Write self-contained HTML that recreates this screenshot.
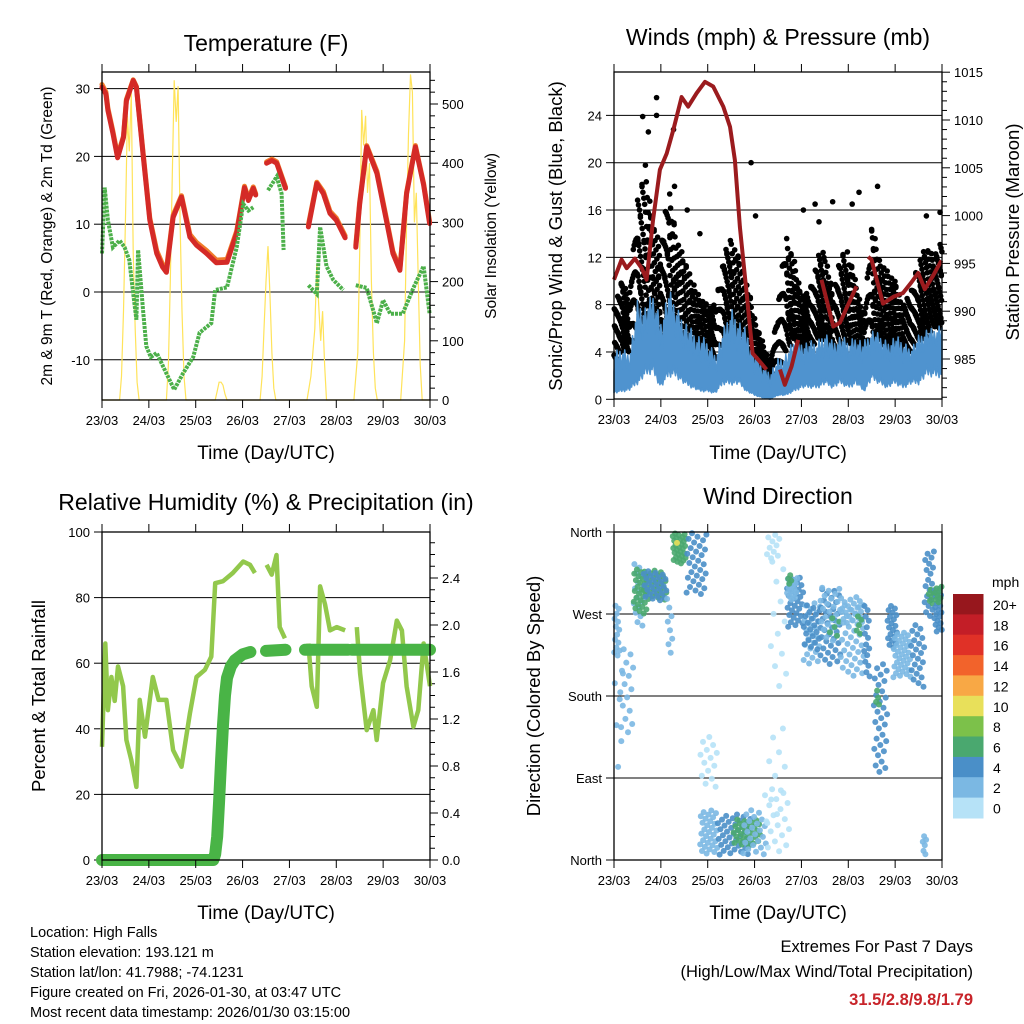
<!DOCTYPE html>
<html><head><meta charset="utf-8"><style>
html,body{margin:0;padding:0;background:#fff;}
svg{display:block;font-family:"Liberation Sans",sans-serif;}
</style></head><body>
<svg id="chart" xmlns="http://www.w3.org/2000/svg" width="1024" height="1024" viewBox="0 0 1024 1024"></svg>
<script>
// ---------- data ----------
const dayLabels = ["23/03","24/03","25/03","26/03","27/03","28/03","29/03","30/03"];
const tempHours = [0,2,3,5.6,8,11,12.5,16,17.6,21,24.5,28,31,33,36.4,40.7,45,48.4,53.5,58.6,64,69,73,75,77.5,78.7,null,84.3,87,89.5,94,null,105.7,110,113.4,116.8,120,124.5,null,130,132,135.6,140.8,146,149,152.6,156,160.5,164.7,167.8];
const temp2m = [30.2,29.2,26.8,23.4,19.8,22.8,28.2,31.2,30.2,20.4,10.6,5.7,3.7,2.9,11,14,8.1,6.9,5.7,4.3,4.4,8.7,15.4,13.5,15.3,14.3,null,19,19.4,19,15.3,null,9.6,16,14.5,11.6,10.6,8,null,6.6,13,21.4,17.5,10.1,5.7,3.2,14.5,21.4,15.8,10.1];
const temp9m = [30.6,29.5,27.1,23.7,20.1,23.0,28.4,31.3,30.3,20.7,10.9,6.1,4.1,3.3,11.3,14.2,8.5,7.3,6.1,4.7,4.8,9.0,15.6,13.8,15.5,14.5,null,19.2,19.6,19.2,15.5,null,9.9,16.2,14.8,11.9,10.9,8.3,null,6.9,13.3,21.6,17.8,10.4,6.0,3.5,14.7,21.6,16.0,10.4];
const dewHours = [0,1.4,3,5.6,9,11.6,14,16,17.6,18.5,21,22.7,25,28,33,37,41.5,46.7,50,56,58,64,69,72.3,75,77.5,null,85,89.5,92,93,null,105.7,110,111.7,115,118.4,123.6,null,130,135.6,140.8,144,147.6,154,159.5,164.7,167.8];
const dewF = [5.7,15.4,10.6,6.6,7.6,6.6,4.7,-0.2,-4.1,6.2,-2.6,-8,-9.6,-9,-12,-14.4,-12,-9.6,-6,-4.6,0.3,0.7,6.6,13,12,12.5,null,15,17,14.5,6.2,null,1,-0.3,9.6,3.8,1.8,0.3,null,1,0.6,-4.6,-1.2,-3.2,-3.2,0.6,3.8,-3.2];
const solarHours = [0,9,10,11,12,13,14,15,16,17,18,19,33,34,35,36,37,38,39,40,41,42,43,58,59,60,61,62,63,64,81,82,83,84,85,86,87,88,89,105,107,109,110,111,112,113,114,115,129,131,132,133,134,135,136,137,138,139,140,141,153,155,156,157,158,159,160,161,162,163,164,168];
const solarW = [0,0,40,150,300,480,420,520,250,120,30,0,0,60,200,380,540,470,530,300,150,40,0,0,15,30,30,25,10,0,0,40,120,200,260,180,80,20,0,0,40,120,230,160,100,150,60,0,0,80,250,490,430,480,350,400,200,80,20,0,0,100,300,450,550,520,300,350,200,60,0,0];
const presHours = [0,3.9,6.5,10.7,14.2,16.7,20,23.5,27,30.4,34.6,38,42.3,46.6,50.8,56,59.4,61.9,64.5,67.9,71,74,78.1,null,85,87.5,90.9,94.3,null,106.3,112.3,115.7,124.2,null,130.2,131.9,137.8,143,148,152.3,155.8,159.2,163.4,167.7];
const presMb = [993.3,995.4,994.5,995.5,994.5,993.3,999.5,1004.8,1006.5,1009,1012.4,1011.4,1012.8,1014,1013.5,1011.4,1009.3,1005.8,998.8,991.9,985.6,984.9,983.9,null,983.9,982.3,984.2,987,null,993.3,988.4,988.8,992.6,null,995.7,995.4,990.8,991.5,991.9,993,994,992.3,993.7,995.3];
const windHours = [0,4,8,12,16,20,24,28,32,36,40,44,48,52,56,60,64,68,72,76,80,84,88,92,96,100,104,108,112,116,120,124,128,132,136,140,144,148,152,156,160,164,168];
const windHigh = [4,4.5,4,8.5,8,9,7,9.5,8,7,6,5.5,5,4,6,8,7,6,4,3,2.5,3.5,4,5,5,5,5,6,5,5.5,5,5.5,5,6,5.5,5,5.5,5,4.5,5.5,6,6,6.5];
const windLow = [0.8,1,1.2,2,3,3.5,1.5,3,3,2,1.5,1,1,0.8,2,2,2,1,0.5,0.2,0,0.5,0.5,1,1.5,1.5,1.5,2,1.5,2,1.5,2,1,2.5,2,1.5,2,1.5,2,2,3,3,3];
const gustLow = [3,4,4,6,7,6,5,6,6,4,3,3,2,3,5,5,4,3,2,1,0.5,2,4,5,4,4,5,5,3,4,5,4,3,5,5,4,4,3,4,5,5,6,6];
const gustHigh = [8,10,9,17,20,15,13,18,14,12,10,9,8,8,12,14,12,10,7,5,3,8,14,12,9,9,12,13,9,12,13,10,7,15,12,11,10,8,9,12,13,12,14];
const gustOutH = [14.7,17.6,21.8,21.8,30.5,31,37.5,44,70.2,72.5,97,103,105,112,122,125.5,135,160,167];
const gustOutV = [23.9,22.6,25.5,24,22.8,18,16,14,20,15.5,16,16.5,15,16.7,16.5,17.5,18,15.5,15.8];
const rhHours = [0,1.7,3,4.8,6.5,8.2,10.8,12.5,15,17.6,19.3,22,24.5,26,29,33,36.4,40.7,45,48.4,52.7,56,58,62,67,72.3,75.8,78.3,null,84.3,86.9,89.4,91,93.7,null,105.7,107.4,110,111.7,114.2,116.8,120.2,124.5,null,130.5,132.2,135.6,139,140.7,144,147.6,151,153.6,156,159.5,162,164.7,168];
const rhPct = [34.5,66,45.7,55.8,48.5,59,53,36.6,30.5,22.3,48.8,37.6,48.8,55.8,48.8,48.8,33.5,28.4,44.7,55.8,58,62,84.4,85,87.5,91,90,87.5,null,90,87,93,71,67.6,null,66,53,46.7,83.4,78,70,71,70,null,71,56.9,39.6,45.7,36.6,54,61,73,70,53,40.6,45.7,66,53];
const prHours = [0,57,58,59,60,61,62,63,64,66,68,72,76,null,84,94,null,104,126,null,128,168];
const prIn = [0,0,0.05,0.2,0.5,0.85,1.15,1.4,1.55,1.65,1.7,1.75,1.77,null,1.78,1.79,null,1.79,1.79,null,1.79,1.79];
const dirStart = [0,0,3,10,10,15,15,27,30,32,37,44,44,53,61,66,77,78,78,80,88.5,88.5,89,97,97,105.6,105.6,110,116,116,124,128,133,134,140,143,152,159,161,164,164,158];
const dirEnd = [3,5,10,15,17,27,27,30,37,32.5,47.5,53,53,70,75,78,90,88,85,88.5,97,94,91,105.6,106,116,116,116,128,128,127,131,140,136,145,152,159,164,164,168,168,160];
const dirLo = [220,100,135,255,270,285,285,225,325,345,290,80,5,5,15,5,5,40,330,180,255,285,300,215,230,215,240,245,200,260,245,200,90,170,230,200,190,265,280,250,280,4];
const dirHi = [280,220,235,325,320,318,318,290,359,352,359,140,55,50,45,55,80,150,360,330,310,310,315,285,280,300,300,270,280,290,270,280,215,190,280,250,260,340,300,300,300,30];
const dirSpd = [3,2,2,3,6,7,4,2,6,10,4,1,3,4,7,3,1,1,0,0,4,3,6,2,4,4,2,6,3,2,6,4,4,6,4,2,4,4,6,4,6,3];
const dirCount = [14,6,16,16,26,30,26,8,30,1,30,14,30,40,30,24,18,10,10,12,30,15,4,25,22,35,25,5,35,20,5,15,30,4,20,35,22,20,6,20,8,6];
const cbLabels = ["20+","18","16","14","12","10","8","6","4","2","0"];
const cbColors = ["#97171d","#c31e27","#e03127","#f2632b","#f8a845","#e8e05a","#7cc14a","#4aa86f","#4a8fc8","#7bb8e3","#b6e2f7"];

// ---------- helpers ----------
const NS = "http://www.w3.org/2000/svg";
const svg = document.getElementById("chart");
function mk(tag, attrs, parent) {
  const e = document.createElementNS(NS, tag);
  for (const k in attrs) e.setAttribute(k, attrs[k]);
  (parent || svg).appendChild(e);
  return e;
}
function txt(s, x, y, size, anchor, parent, extra) {
  const t = mk("text", Object.assign({x: x, y: y, "font-size": size, "text-anchor": anchor || "middle", fill: "#000"}, extra || {}), parent);
  t.textContent = s;
  return t;
}
function spread(k) { return (k * 0.6180339887 + 0.13) % 1; }
function spread2(k) { return (k * 0.7548776662 + 0.37) % 1; }
function pathFrom(hs, vs, fx, fy) {
  let d = "", pen = false;
  for (let i = 0; i < hs.length; i++) {
    if (hs[i] === null || vs[i] === null) { pen = false; continue; }
    d += (pen ? "L" : "M") + fx(hs[i]).toFixed(1) + "," + fy(vs[i]).toFixed(1);
    pen = true;
  }
  return d;
}
function interp(hs, vs, h) {
  for (let i = 0; i < hs.length - 1; i++) {
    if (h >= hs[i] && h <= hs[i+1]) return vs[i] + (vs[i+1]-vs[i])*(h-hs[i])/(hs[i+1]-hs[i]);
  }
  return vs[vs.length-1];
}
function frame(x0, y0, x1, y1, g) {
  const r = mk("rect", {x: x0, y: y0, width: x1-x0, height: y1-y0, fill: "none", stroke: "#000", "stroke-width": 1.3}, g);
  
  
  const fx = h => x0 + h*(x1-x0)/168;
  for (let i = 0; i < dayLabels.length; i++) {
    const x = fx(i*24);
    mk("line", {x1: x, y1: y1, x2: x, y2: y1+8, stroke: "#000", "stroke-width": 1}, g);
    mk("line", {x1: x, y1: y0, x2: x, y2: y0-8, stroke: "#000", "stroke-width": 1}, g);
    const t = txt(dayLabels[i], x, y1+25, 13, "middle", g);
    
    
  }
  return fx;
}
function hgrid(y, x0, x1, g) {
  mk("line", {x1: x0, y1: y, x2: x1, y2: y, stroke: "#000", "stroke-width": 1}, g);
}
function ltick(y, x0, label, g) {
  mk("line", {x1: x0-8, y1: y, x2: x0, y2: y, stroke: "#000", "stroke-width": 1}, g);
  const t = txt(label, x0-12, y+5, 13, "end", g);
  
  
}
function rtick(y, x1, label, g, minor) {
  mk("line", {x1: x1, y1: y, x2: x1+(minor?5:8), y2: y, stroke: "#000", "stroke-width": 1}, g);
  if (label !== null) {
    const t = txt(label, x1+12, y+5, 13, "start", g);
    
    
  }
}

// ---------- Panel 1: Temperature ----------
const g1 = mk("g", {});


{
  const X0=102, X1=430, Y0=72, Y1=400;
  const yT = v => 292 - v*6.78;
  const yS = v => 400 - v*0.592;
  const fx = h => X0 + h*(X1-X0)/168;
  [30,20,10,0,-10].forEach(v => { hgrid(yT(v), X0, X1, g1); ltick(yT(v), X0, String(v), g1); });
  for (let v=0; v<=550; v+=20) rtick(yS(v), X1, v%100===0 ? String(v) : null, g1, v%100!==0);
  const sol = mk("path", {d: pathFrom(solarHours, solarW, fx, yS), fill: "none", stroke: "#ffe35a", "stroke-width": 1.2}, g1);
  
  
  const t9 = mk("path", {d: pathFrom(tempHours, temp9m, fx, yT), fill: "none", stroke: "#f07c2a", "stroke-width": 5, "stroke-linejoin": "round", "stroke-linecap": "round"}, g1);
  
  
  const t2 = mk("path", {d: pathFrom(tempHours, temp2m, fx, yT), fill: "none", stroke: "#d42a27", "stroke-width": 5, "stroke-linejoin": "round", "stroke-linecap": "round"}, g1);
  
  
  const td = mk("path", {d: pathFrom(dewHours, dewF, fx, yT), fill: "none", stroke: "#4cb04a", "stroke-width": 4, "stroke-dasharray": "3 1"}, g1);
  
  
  frame(X0, Y0, X1, Y1, g1);
  const tt = txt("Temperature (F)", 266, 51, 23, "middle", g1);
  
  
  const xt = txt("Time (Day/UTC)", 266, 459, 19, "middle", g1);
  
  
  const yl = txt("2m & 9m T (Red, Orange) & 2m Td (Green)", 0, 0, 15.5, "middle", g1, {transform: "translate(52,236) rotate(-90)"});
  
  
  const yr = txt("Solar Insolation (Yellow)", 0, 0, 15.5, "middle", g1, {transform: "translate(496,236) rotate(-90)"});
  
  
}

// ---------- Panel 2: Winds & Pressure ----------
const g2 = mk("g", {});


{
  const X0=614, X1=942, Y0=72, Y1=399;
  const yW = v => 399.3 - v*11.83;
  const yP = p => 72.2 + (1015-p)*9.56;
  const fx = h => X0 + h*(X1-X0)/168;
  [4,8,12,16,20,24].forEach(v => hgrid(yW(v), X0, X1, g2));
  [0,4,8,12,16,20,24].forEach(v => ltick(yW(v), X0, String(v), g2));
  for (let p=981; p<=1015; p++) rtick(yP(p), X1, p%5===0 ? String(p) : null, g2, p%5!==0);
  const gg = mk("g", {fill: "#000"}, g2);
  
  
  let k = 0;
  for (let i=0; i<windHours.length-1; i++) {
    const n = 44;
    for (let j=0; j<n; j++) {
      const h = windHours[i] + (windHours[i+1]-windHours[i])*spread2(k*3+1);
      const lo = interp(windHours, gustLow, h), hi = interp(windHours, gustHigh, h);
      const v = lo + (hi-lo)*Math.pow(spread(k), 1.2);
      k++;
      const c = mk("circle", {cx: fx(h).toFixed(1), cy: yW(v).toFixed(1), r: 2.8}, gg);
      
      
    }
  }
  for (let i=0; i<gustOutH.length; i++) {
    const c = mk("circle", {cx: fx(gustOutH[i]), cy: yW(gustOutV[i]), r: 2.8}, gg);
    
    
  }
  let top = [], bot = [];
  const steps = 168*2;
  for (let s=0; s<=steps; s++) {
    const h = s*168/steps;
    const lo = interp(windHours, windLow, h), hi = interp(windHours, windHigh, h);
    top.push(fx(h).toFixed(1)+","+yW(lo + (hi-lo)*(0.4+0.6*spread(s))).toFixed(1));
    bot.push(fx(h).toFixed(1)+","+yW(lo*(0.6+0.4*spread(s+5))).toFixed(1));
  }
  const band = mk("polygon", {points: top.concat(bot.reverse()).join(" "), fill: "#4f93cf", stroke: "#4f93cf", "stroke-width": 1.5, "stroke-linejoin": "round"}, g2);
  
  
  const pr = mk("path", {d: pathFrom(presHours, presMb, fx, yP), fill: "none", stroke: "#9b1b1e", "stroke-width": 4, "stroke-linejoin": "round"}, g2);
  
  
  frame(X0, Y0, X1, Y1, g2);
  const tt = txt("Winds (mph) & Pressure (mb)", 778, 45, 23, "middle", g2);
  
  
  const xt = txt("Time (Day/UTC)", 778, 459, 19, "middle", g2);
  
  
  const yl = txt("Sonic/Prop Wind & Gust (Blue, Black)", 0, 0, 18.5, "middle", g2, {transform: "translate(562,236) rotate(-90)"});
  
  
  const yr = txt("Station Pressure (Maroon)", 0, 0, 18.5, "middle", g2, {transform: "translate(1019,232) rotate(-90)"});
  
  
}

// ---------- Panel 3: RH & Precip ----------
const g3 = mk("g", {});


{
  const X0=102, X1=430, Y0=532, Y1=860;
  const yR = v => 860 - v*3.28;
  const yI = v => 860 - v*117.5;
  const fx = h => X0 + h*(X1-X0)/168;
  [20,40,60,80].forEach(v => hgrid(yR(v), X0, X1, g3));
  [0,20,40,60,80,100].forEach(v => ltick(yR(v), X0, String(v), g3));
  for (let v=0; v<=27; v++) rtick(yI(v/10), X1, v%4===0 ? (v/10).toFixed(1) : null, g3, v%4!==0);
  const rh = mk("path", {d: pathFrom(rhHours, rhPct, fx, yR), fill: "none", stroke: "#92c84c", "stroke-width": 4.5, "stroke-linejoin": "round"}, g3);
  
  
  const pp = mk("path", {d: pathFrom(prHours, prIn, fx, yI), fill: "none", stroke: "#49b446", "stroke-width": 12, "stroke-linejoin": "round", "stroke-linecap": "round"}, g3);
  
  
  frame(X0, Y0, X1, Y1, g3);
  const tt = txt("Relative Humidity (%) & Precipitation (in)", 266, 510, 23, "middle", g3);
  
  
  const xt = txt("Time (Day/UTC)", 266, 919, 19, "middle", g3);
  
  
  const yl = txt("Percent & Total Rainfall", 0, 0, 18.5, "middle", g3, {transform: "translate(45,696) rotate(-90)"});
  
  
}

// ---------- Panel 4: Wind direction ----------
const g4 = mk("g", {});


{
  const X0=614, X1=942, Y0=532, Y1=860;
  const yD = d => 860 - d*328/360;
  const fx = h => X0 + h*(X1-X0)/168;
  [90,180,270].forEach(d => hgrid(yD(d), X0, X1, g4));
  const dl = ["North","East","South","West","North"];
  [0,90,180,270,360].forEach((d,i) => ltick(yD(d), X0, dl[i], g4));
  const dg = mk("g", {"fill-opacity": 0.9}, g4);
  
  
  let k = 0;
  for (let i=0; i<dirStart.length; i++) {
    const n = dirCount[i];
    const bin = Math.min(10, Math.floor(dirSpd[i]/2));
    const col = cbColors[10-bin];
    for (let j=0; j<n; j++) {
      const h = dirStart[i] + (dirEnd[i]-dirStart[i])*(j+0.5)/n;
      const d = dirLo[i] + (dirHi[i]-dirLo[i])*spread(k);
      k++;
      const c = mk("circle", {cx: fx(h).toFixed(1), cy: yD(d).toFixed(1), r: 3, fill: col}, dg);
      
      
    }
  }
  frame(X0, Y0, X1, Y1, g4);
  const tt = txt("Wind Direction", 778, 504, 23, "middle", g4);
  
  
  const xt = txt("Time (Day/UTC)", 778, 919, 19, "middle", g4);
  
  
  const yl = txt("Direction (Colored By Speed)", 0, 0, 18.5, "middle", g4, {transform: "translate(540,696) rotate(-90)"});
  
  
  const cb = mk("g", {}, g4);
  
  
  const mu = txt("mph", 992, 587, 14, "start", cb);
  
  
  for (let i=0; i<cbLabels.length; i++) {
    const y = 594 + i*20.36;
    const r = mk("rect", {x: 953, y: y.toFixed(1), width: 30.5, height: 20.9, fill: cbColors[i]}, cb);
    
    
    const t = txt(cbLabels[i], 993, y+16, 14, "start", cb);
    
    
  }
}

// ---------- footer ----------
const info = ["Location: High Falls","Station elevation: 193.121 m","Station lat/lon: 41.7988; -74.1231","Figure created on Fri, 2026-01-30, at 03:47 UTC","Most recent data timestamp: 2026/01/30 03:15:00"];
const gi = mk("g", {});


info.forEach((s,i) => {
  const t = txt(s, 30, 937 + i*20, 14.5, "start", gi);
  
  
});
const e1 = txt("Extremes For Past 7 Days", 973, 952, 16.5, "end");


const e2 = txt("(High/Low/Max Wind/Total Precipitation)", 973, 977, 16.5, "end");


const e3 = txt("31.5/2.8/9.8/1.79", 973, 1005, 16.5, "end", null, {fill: "#c8242a", "font-weight": "bold"});


</script>
</body></html>
